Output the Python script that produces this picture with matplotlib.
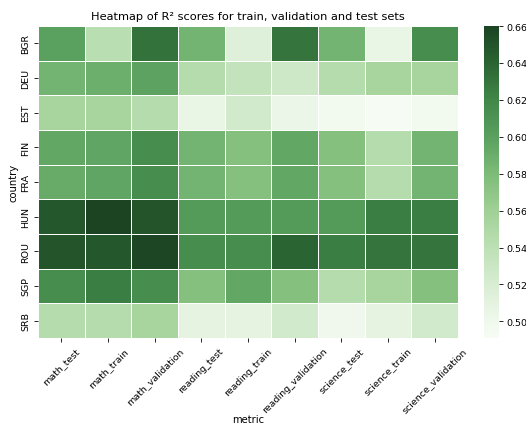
import numpy as np
import pandas as pd
import matplotlib
matplotlib.use("Agg")
import matplotlib.pyplot as plt
from matplotlib.colors import LinearSegmentedColormap
import seaborn as sns

countries = ["BGR", "DEU", "EST", "FIN", "FRA", "HUN", "ROU", "SGP", "SRB"]
metrics = ["math_test", "math_train", "math_validation",
           "reading_test", "reading_train", "reading_validation",
           "science_test", "science_train", "science_validation"]

bgr = [0.600, 0.542, 0.632, 0.585, 0.515, 0.630, 0.585, 0.506, 0.615]
deu = [0.585, 0.590, 0.598, 0.545, 0.535, 0.528, 0.545, 0.555, 0.555]
est = [0.555, 0.555, 0.545, 0.506, 0.525, 0.504, 0.498, 0.492, 0.498]
fin = [0.595, 0.596, 0.615, 0.585, 0.575, 0.595, 0.575, 0.545, 0.585]
fra = [0.592, 0.596, 0.615, 0.585, 0.575, 0.595, 0.575, 0.545, 0.585]
hun = [0.648, 0.660, 0.650, 0.605, 0.605, 0.605, 0.605, 0.625, 0.625]
rou = [0.650, 0.648, 0.658, 0.615, 0.615, 0.640, 0.625, 0.630, 0.630]
sgp = [0.615, 0.625, 0.615, 0.575, 0.595, 0.575, 0.545, 0.555, 0.575]
srb = [0.545, 0.545, 0.555, 0.510, 0.510, 0.525, 0.500, 0.510, 0.525]

scores = pd.DataFrame([bgr, deu, est, fin, fra, hun, rou, sgp, srb],
                      index=pd.Index(countries, name="country"),
                      columns=pd.Index(metrics, name="metric"))

vmin, vmax = 0.491, 0.660

# soft green ramp, light to dark
ramp_levels = [0.491, 0.50, 0.52, 0.54, 0.56, 0.58, 0.60, 0.62, 0.64, 0.66]
ramp_colors = ["#f7fcf5", "#f0f8ed", "#d8edd2", "#bce0b4", "#a0d096",
               "#7dbb78", "#5aa05f", "#418748", "#2a6432", "#1c4423"]
green_ramp = LinearSegmentedColormap.from_list(
    "soft_greens",
    [((lv - vmin) / (vmax - vmin), c) for lv, c in zip(ramp_levels, ramp_colors)])

fig = plt.figure(figsize=(5.26, 4.27), dpi=100)
ax = fig.add_axes([38 / 526, (427 - 339) / 427, 420 / 526, 312 / 427])
cax = fig.add_axes([484 / 526, (427 - 339) / 427, 15 / 526, 312 / 427])

sns.heatmap(scores, cmap=green_ramp, linewidths=0.5, linecolor="white",
            vmin=vmin, vmax=vmax, ax=ax, cbar_ax=cax)

ax.set_title("Heatmap of R² scores for train, validation and test sets", fontsize=8.2, pad=5)
ax.set_xlabel("metric", fontsize=7.2, labelpad=0)
ax.set_ylabel("country", fontsize=7.2, labelpad=2)
ax.tick_params(axis="both", labelsize=6.8, length=3, width=0.6, pad=2.5)
plt.setp(ax.get_xticklabels(), rotation=45, ha="center")
plt.setp(ax.get_yticklabels(), rotation=90, va="center")
cax.tick_params(labelsize=6.8, length=3, width=0.6, pad=2.5)

fig.savefig("out.png", dpi=100)
